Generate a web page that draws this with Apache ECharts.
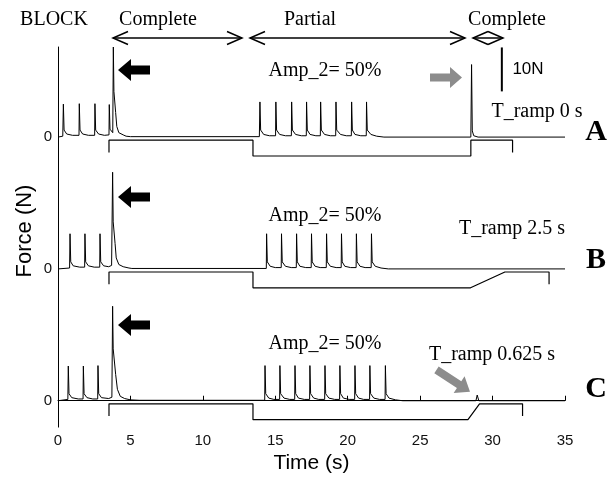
<!DOCTYPE html>
<html>
<head>
<meta charset="utf-8">
<script src="https://cdn.jsdelivr.net/npm/echarts@6/dist/echarts.min.js"></script>
<style>
  html, body { margin: 0; padding: 0; background: #fff; }
  #chart { width: 616px; height: 479px; }
</style>
</head>
<body>
<div id="chart"></div>
<script>
// x ticks (s)
var timeTicks = [0, 5, 10, 15, 20, 25, 30, 35]
// each panel is shifted up by this many N so the three traces stack
var panelOffsets = { A: 60, B: 30, C: 0 }

// force traces, [time s, force N]
var forceA = [
  [0, 0], [0.33, 0.2], [0.37, 7.5], [0.42, 1.6], [0.6, 0.7], [1.0, 0.4],
  [1.45, 0.4], [1.47, 7.6], [1.52, 1.6], [1.7, 0.7], [2.1, 0.4],
  [2.53, 0.4], [2.55, 7.6], [2.6, 1.6], [2.8, 0.7], [3.2, 0.4],
  [3.52, 0.5], [3.54, 7.4], [3.59, 1.8], [3.78, 1.0], [3.82, 20.5], [3.86, 10.4], [3.92, 10.0],
  [3.98, 5.6], [4.06, 2.4], [4.2, 1.0], [4.5, 0.5], [4.6, 0.7], [4.7, 0.2], [5.0, 0.1],
  [13.9, 0.1], [13.94, 8.0], [13.99, 1.6], [14.2, 0.6], [14.6, 0.3],
  [15.02, 0.3], [15.04, 8.0], [15.09, 1.6], [15.3, 0.6], [15.7, 0.3],
  [16.11, 0.3], [16.13, 8.0], [16.18, 1.6], [16.4, 0.6], [16.8, 0.3],
  [17.14, 0.3], [17.16, 8.0], [17.21, 1.6], [17.4, 0.6], [17.8, 0.3],
  [18.11, 0.3], [18.13, 8.0], [18.18, 1.6], [18.4, 0.6], [18.8, 0.3],
  [19.17, 0.3], [19.19, 8.0], [19.24, 1.6], [19.5, 0.6], [19.9, 0.3],
  [20.25, 0.3], [20.27, 8.0], [20.32, 1.6], [20.5, 0.6], [20.9, 0.3],
  [21.28, 0.3], [21.3, 8.0], [21.35, 1.6], [21.6, 0.6], [22.0, 0.2], [22.5, 0],
  [28.5, 0], [28.55, 16.5], [28.6, 1.4], [28.7, 0.3], [29.0, 0], [35, 0]
]
var forceB = [
  [0, 0], [0.8, 0.2], [0.83, 8.0], [0.88, 1.6], [1.05, 0.7], [1.5, 0.4],
  [1.84, 0.4], [1.86, 8.0], [1.91, 1.6], [2.1, 0.7], [2.5, 0.4],
  [2.88, 0.4], [2.9, 8.0], [2.95, 1.6], [3.15, 0.7], [3.5, 0.5],
  [3.7, 0.8], [3.77, 22.0], [3.81, 10.7], [3.87, 10.5], [3.94, 5.8], [4.02, 2.5], [4.2, 1.0],
  [4.5, 0.5], [4.9, 0.2], [5.0, 0.6], [5.1, 0.1],
  [14.38, 0.1], [14.4, 8.0], [14.45, 1.6], [14.65, 0.6], [15.0, 0.3],
  [15.41, 0.3], [15.43, 8.0], [15.48, 1.6], [15.7, 0.6], [16.1, 0.3],
  [16.45, 0.3], [16.47, 8.0], [16.52, 1.6], [16.7, 0.6], [17.1, 0.3],
  [17.48, 0.3], [17.5, 8.0], [17.55, 1.6], [17.75, 0.6], [18.1, 0.3],
  [18.52, 0.3], [18.54, 8.0], [18.59, 1.6], [18.8, 0.6], [19.2, 0.3],
  [19.55, 0.3], [19.57, 8.0], [19.62, 1.6], [19.8, 0.6], [20.2, 0.3],
  [20.58, 0.3], [20.6, 8.0], [20.65, 1.6], [20.85, 0.6], [21.2, 0.3],
  [21.62, 0.3], [21.64, 8.0], [21.69, 1.6], [21.9, 0.6], [22.3, 0.2], [22.8, 0],
  [35, 0]
]
var forceC = [
  [0, 0], [0.68, 0.3], [0.71, 7.9], [0.76, 1.6], [0.95, 0.7], [1.4, 0.4],
  [1.73, 0.4], [1.75, 7.9], [1.8, 1.6], [2.0, 0.7], [2.4, 0.4],
  [2.74, 0.4], [2.76, 8.0], [2.81, 1.6], [3.0, 0.7], [3.5, 0.5],
  [3.72, 0.8], [3.77, 21.5], [3.81, 11.8], [3.88, 11.5], [3.98, 6.0], [4.1, 2.6], [4.3, 1.0],
  [4.6, 0.5], [5.0, 0.2], [5.6, 0.1],
  [14.27, 0.1], [14.29, 8.0], [14.34, 1.6], [14.55, 0.6], [14.9, 0.3],
  [15.3, 0.3], [15.32, 8.0], [15.37, 1.6], [15.6, 0.6], [16.0, 0.3],
  [16.34, 0.3], [16.36, 8.0], [16.41, 1.6], [16.6, 0.6], [17.0, 0.3],
  [17.37, 0.3], [17.39, 8.0], [17.44, 1.6], [17.65, 0.6], [18.0, 0.3],
  [18.41, 0.3], [18.43, 8.0], [18.48, 1.6], [18.7, 0.6], [19.1, 0.3],
  [19.44, 0.3], [19.46, 8.0], [19.51, 1.6], [19.7, 0.6], [20.1, 0.3],
  [20.48, 0.3], [20.5, 8.0], [20.55, 1.6], [20.75, 0.6], [21.1, 0.3],
  [21.51, 0.3], [21.53, 8.0], [21.58, 1.6], [21.8, 0.6], [22.2, 0.3],
  [22.58, 0.3], [22.6, 8.0], [22.65, 1.6], [22.85, 0.6], [23.3, 0.2], [23.8, 0],
  [28.85, 0], [28.94, 1.3], [29.05, 0], [35, 0]
]

// stimulation protocol lines drawn under each trace
var stimA = [[3.52, -3.5], [3.52, -0.7], [13.46, -0.7], [13.46, -4.3], [28.5, -4.3], [28.5, -0.7], [31.38, -0.7], [31.38, -3.5]]
var stimB = [[3.52, -3.5], [3.52, -0.7], [13.46, -0.7], [13.46, -4.3], [28.48, -4.3], [30.85, -0.7], [33.9, -0.7], [33.9, -3.5]]
var stimC = [[3.52, -3.5], [3.52, -0.7], [13.46, -0.7], [13.46, -4.3], [28.3, -4.3], [29.1, -0.7], [32.07, -0.7], [32.07, -3.5]]

// 10 N scale bar, panel A units
var scaleBar = [[30.64, 10.4], [30.64, 20.4]]

function shift(points, off) {
  return points.map(function (p) { return [p[0], p[1] + off] })
}

function traceSeries(points, off, width) {
  return {
    type: 'line',
    data: shift(points, off),
    showSymbol: false,
    symbol: 'none',
    silent: true,
    animation: false,
    lineStyle: { color: '#000', width: width }
  }
}

// arrow outline pointing along angle, tip at (x, y)
function arrowPts(x, y, angle, len, headLen, headHalf, shaftHalf) {
  var local = [[0, 0], [-headLen, -headHalf], [-headLen, -shaftHalf], [-len, -shaftHalf],
    [-len, shaftHalf], [-headLen, shaftHalf], [-headLen, headHalf]]
  var c = Math.cos(angle), s = Math.sin(angle)
  return local.map(function (p) { return [x + p[0] * c - p[1] * s, y + p[0] * s + p[1] * c] })
}

function dblArrow(x1, x2, y) {
  var st = { stroke: '#000', lineWidth: 1.5, fill: null }
  return [
    { type: 'polyline', shape: { points: [[x1, y], [x2, y]] }, style: st },
    { type: 'polyline', shape: { points: [[x1 + 15, y - 6.5], [x1, y], [x1 + 15, y + 6.5]] }, style: st },
    { type: 'polyline', shape: { points: [[x2 - 15, y - 6.5], [x2, y], [x2 - 15, y + 6.5]] }, style: st }
  ]
}

var serif = 'Liberation Serif, Times New Roman, serif'
var sans = 'Liberation Sans, Arial, sans-serif'

function txt(text, x, y, size, family, opts) {
  opts = opts || {}
  return {
    type: 'text',
    x: x,
    y: y,
    rotation: opts.rotation || 0,
    style: {
      text: text,
      fontSize: size,
      fontFamily: family,
      fontWeight: opts.bold ? 'bold' : 'normal',
      fill: '#000',
      align: opts.align || 'center',
      verticalAlign: 'middle'
    }
  }
}

var chart = echarts.init(document.getElementById('chart'))

var graphics = []
graphics = graphics.concat(dblArrow(113, 242, 38), dblArrow(250, 465, 38), dblArrow(473, 503, 38))
graphics.push(
  { type: 'polygon', shape: { points: arrowPts(118, 70, Math.PI, 32, 13, 11, 4.5) }, style: { fill: '#000' } },
  { type: 'polygon', shape: { points: arrowPts(118, 197, Math.PI, 32, 13, 11, 4.5) }, style: { fill: '#000' } },
  { type: 'polygon', shape: { points: arrowPts(118, 325, Math.PI, 32, 13, 11, 4.5) }, style: { fill: '#000' } },
  { type: 'polygon', shape: { points: arrowPts(462, 77.5, 0, 32, 12, 10.5, 4) }, style: { fill: '#8c8c8c' } },
  { type: 'polygon', shape: { points: arrowPts(470, 391.7, Math.atan2(21.7, 33.3), 40, 13, 10, 4) }, style: { fill: '#8c8c8c' } },
  txt('BLOCK', 54, 20, 20, serif),
  txt('Complete', 158, 20, 20, serif),
  txt('Partial', 310, 20, 20, serif),
  txt('Complete', 507, 20, 20, serif),
  txt('Amp_2= 50%', 325, 71, 20, serif),
  txt('Amp_2= 50%', 325, 216, 20, serif),
  txt('Amp_2= 50%', 325, 344, 20, serif),
  txt('10N', 528, 69, 17, sans),
  txt('T_ramp 0 s', 537, 112, 20, serif),
  txt('T_ramp 2.5 s', 512, 229, 20, serif),
  txt('T_ramp 0.625 s', 492, 355, 20, serif),
  txt('A', 596, 132, 30, serif, { bold: true }),
  txt('B', 596, 260, 30, serif, { bold: true }),
  txt('C', 596, 389, 30, serif, { bold: true }),
  txt('Force (N)', 25, 231, 22, sans, { rotation: Math.PI / 2 })
)

var option = {
  animation: false,
  grid: { left: 58, right: 51, top: 47, bottom: 47, containLabel: false },
  xAxis: {
    type: 'value',
    min: timeTicks[0],
    max: timeTicks[timeTicks.length - 1],
    interval: 5,
    name: 'Time (s)',
    nameLocation: 'middle',
    nameGap: 24,
    nameTextStyle: { fontSize: 21, fontFamily: sans, color: '#000' },
    axisLine: { lineStyle: { color: '#000', width: 1 } },
    axisTick: { inside: true, length: 5, lineStyle: { color: '#000' } },
    axisLabel: { fontSize: 15, fontFamily: sans, color: '#111', margin: 6 },
    splitLine: { show: false }
  },
  yAxis: {
    type: 'value',
    min: -6,
    max: 80.5,
    interval: 6,
    axisLine: { show: true, lineStyle: { color: '#000', width: 1 } },
    axisTick: { show: false },
    splitLine: { show: false },
    axisLabel: {
      fontSize: 15,
      fontFamily: sans,
      color: '#111',
      margin: 6,
      showMaxLabel: false,
      formatter: function (v) {
        return (v === panelOffsets.A || v === panelOffsets.B || v === panelOffsets.C) ? '0' : ''
      }
    }
  },
  series: [
    traceSeries(forceA, panelOffsets.A, 1),
    traceSeries(forceB, panelOffsets.B, 1),
    traceSeries(forceC, panelOffsets.C, 1),
    traceSeries(stimA, panelOffsets.A, 1.2),
    traceSeries(stimB, panelOffsets.B, 1.2),
    traceSeries(stimC, panelOffsets.C, 1.2),
    traceSeries(scaleBar, panelOffsets.A, 2)
  ],
  graphic: graphics
}

chart.setOption(option)
</script>
</body>
</html>
